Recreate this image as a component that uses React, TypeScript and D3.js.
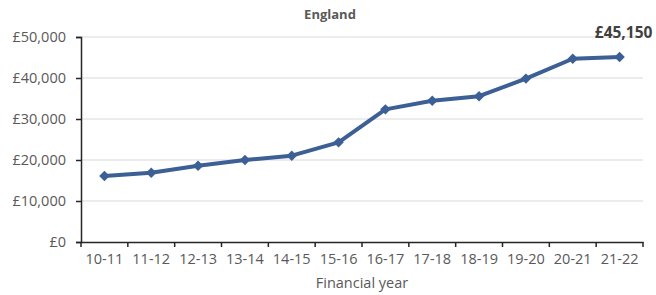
import React, { useEffect, useRef } from "react";
import * as d3 from "d3";

const years = ["10-11", "11-12", "12-13", "13-14", "14-15", "15-16", "16-17", "17-18", "18-19", "19-20", "20-21", "21-22"];
const values = [16100, 16900, 18600, 20000, 21050, 24300, 32350, 34450, 35550, 39850, 44700, 45150];
const yTicks = [0, 10000, 20000, 30000, 40000, 50000];

const W = 656;
const H = 295;
const margin = { top: 37, right: 13, bottom: 53, left: 81 };
const FONT = "'Open Sans', 'Liberation Sans', sans-serif";
const BLUE = "#3c5f95";

export default function App() {
  const ref = useRef<SVGSVGElement>(null);

  useEffect(() => {
    const svg = d3.select(ref.current);
    svg.selectAll("*").remove();

    const x = d3.scaleBand().domain(years).range([margin.left, W - margin.right]);
    const y = d3.scaleLinear().domain([0, 50000]).range([H - margin.bottom, margin.top]);
    const fmt = (v: number) => "£" + d3.format(",")(v);

    // gridlines
    svg.append("g")
      .selectAll("line")
      .data(yTicks.slice(1))
      .join("line")
      .attr("x1", margin.left)
      .attr("x2", W - margin.right)
      .attr("y1", (d) => y(d))
      .attr("y2", (d) => y(d))
      .attr("stroke", "#d9d9d9")
      .attr("stroke-width", 1);

    // y axis
    const yAxis = svg.append("g")
      .attr("transform", `translate(${margin.left},0)`)
      .call(d3.axisLeft(y).tickValues(yTicks).tickFormat((d) => fmt(d as number)).tickSize(5).tickPadding(10));
    yAxis.select(".domain").attr("stroke", "#262626").attr("stroke-width", 1.5);
    yAxis.selectAll(".tick line").attr("stroke", "#262626").attr("stroke-width", 1.5);
    yAxis.selectAll("text").attr("fill", "#595959").style("font-family", FONT).style("font-size", "14.5px");

    // x axis
    const xAxis = svg.append("g")
      .attr("transform", `translate(0,${H - margin.bottom})`)
      .call(d3.axisBottom(x).tickSize(0).tickPadding(12));
    xAxis.select(".domain").attr("stroke", "#262626").attr("stroke-width", 1.5);
    xAxis.selectAll("text").attr("fill", "#595959").style("font-family", FONT).style("font-size", "14.5px");
    // boundary ticks
    const bounds = years.map((d) => x(d) as number).concat([W - margin.right]);
    xAxis.selectAll(".btick")
      .data(bounds)
      .join("line")
      .attr("x1", (d) => d)
      .attr("x2", (d) => d)
      .attr("y1", 0)
      .attr("y2", 5)
      .attr("stroke", "#262626")
      .attr("stroke-width", 1.5);

    const cx = (d: string) => (x(d) as number) + x.bandwidth() / 2;

    // line
    const line = d3.line<number>()
      .x((_, i) => cx(years[i]))
      .y((d) => y(d));
    svg.append("path")
      .datum(values)
      .attr("d", line)
      .attr("fill", "none")
      .attr("stroke", BLUE)
      .attr("stroke-width", 4)
      .attr("stroke-linejoin", "round");

    // markers
    svg.append("g")
      .selectAll("path")
      .data(values)
      .join("path")
      .attr("d", d3.symbol(d3.symbolDiamond2, 70))
      .attr("transform", (d, i) => `translate(${cx(years[i])},${y(d)})`)
      .attr("fill", BLUE);

    // last value label
    const last = values.length - 1;
    svg.append("text")
      .attr("x", cx(years[last]) + 4)
      .attr("y", y(values[last]) - 19)
      .attr("text-anchor", "middle")
      .attr("fill", "#404040")
      .style("font-family", FONT)
      .style("font-size", "15.5px")
      .style("font-weight", "bold")
      .text(fmt(values[last]));

    // title
    svg.append("text")
      .attr("x", 330)
      .attr("y", 19)
      .attr("text-anchor", "middle")
      .attr("fill", "#595959")
      .style("font-family", FONT)
      .style("font-size", "13px")
      .style("font-weight", "bold")
      .text("England");

    // axis title
    svg.append("text")
      .attr("x", (margin.left + W - margin.right) / 2)
      .attr("y", 288)
      .attr("text-anchor", "middle")
      .attr("fill", "#595959")
      .style("font-family", FONT)
      .style("font-size", "14.5px")
      .text("Financial year");
  }, []);

  return (
    <div style={{ position: "absolute", left: 0, top: 0 }}>
      <svg ref={ref} width={W} height={H} style={{ display: "block", background: "#fff" }} />
    </div>
  );
}
